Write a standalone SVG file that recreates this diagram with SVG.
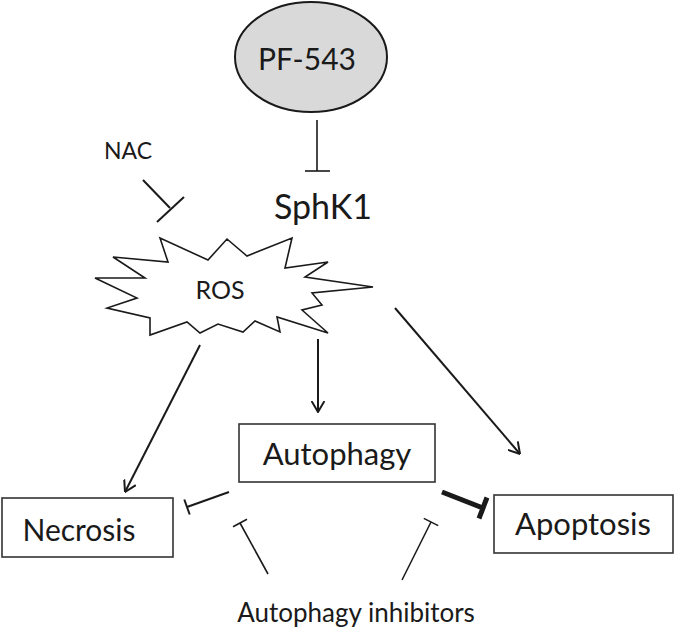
<svg xmlns="http://www.w3.org/2000/svg" width="675" height="635" viewBox="0 0 675 635">
<style>
  text { font-family: Lato, "Open Sans", "Liberation Sans", sans-serif; fill: #1a1a1a; text-anchor: middle; }
  .box { fill: #ffffff; stroke: #333333; stroke-width: 1.6; }
  .ln { fill: none; stroke: #1a1a1a; stroke-width: 2; stroke-linecap: butt; }
  .thin { fill: none; stroke: #1a1a1a; stroke-width: 1.6; }
  .thick { fill: none; stroke: #1a1a1a; stroke-width: 5; }
</style>
<defs>
  <marker id="arrow" viewBox="0 0 12 14" refX="11.5" refY="7" markerWidth="12" markerHeight="14" markerUnits="userSpaceOnUse" orient="auto">
    <path d="M0.5,0.5 L11.5,7 L0.5,13.5" fill="none" stroke="#1a1a1a" stroke-width="2"/>
  </marker>
</defs>
<rect width="675" height="635" fill="#ffffff"/>

<g id="pf543">
  <ellipse cx="311" cy="57" rx="76" ry="55" fill="#d9d9d9" stroke="#1a1a1a" stroke-width="2"/>
  <text x="307" y="70" font-size="30">PF-543</text>
</g>

<g id="sphk1">
  <text x="323" y="219" font-size="34">SphK1</text>
</g>

<g id="nac">
  <text x="128" y="159" font-size="23">NAC</text>
</g>

<g id="ros">
  <polygon points="160,238 168,262 113,257 145,278 95,278 137,298 107,308 150,318 150,335 187,322 200,333 218,324 243,332 255,321 280,332 277,317 328,333 302,310 322,305 312,293 373,287 305,277 328,262 285,268 292,238 247,256 227,239 208,260" fill="#ffffff" stroke="#1a1a1a" stroke-width="1.6" stroke-linejoin="miter"/>
  <text x="220" y="299" font-size="25">ROS</text>
</g>

<g id="autophagy">
  <rect class="box" x="239" y="424" width="196" height="58"/>
  <text x="337" y="465" font-size="31">Autophagy</text>
</g>

<g id="necrosis">
  <rect class="box" x="2" y="498" width="171" height="59"/>
  <text x="79" y="541" font-size="30">Necrosis</text>
</g>

<g id="apoptosis">
  <rect class="box" x="494" y="495" width="179" height="58"/>
  <text x="583" y="535" font-size="31">Apoptosis</text>
</g>

<g id="inhibitors">
  <text x="356" y="622" font-size="26">Autophagy inhibitors</text>
</g>

<g id="connectors">
  <!-- PF-543 inhibits SphK1 -->
  <line class="thin" x1="317" y1="120" x2="317" y2="171"/>
  <line class="thin" x1="305" y1="171" x2="330" y2="171"/>
  <!-- NAC inhibits ROS -->
  <line class="ln" x1="143" y1="180" x2="170" y2="208"/>
  <line class="ln" x1="157" y1="222" x2="184" y2="197"/>
  <!-- ROS activates -->
  <line class="ln" x1="200" y1="345" x2="125" y2="492" marker-end="url(#arrow)"/>
  <line class="ln" x1="318" y1="339" x2="318" y2="412" marker-end="url(#arrow)"/>
  <line class="ln" x1="395" y1="308" x2="520" y2="454" marker-end="url(#arrow)"/>
  <!-- Autophagy inhibits Necrosis -->
  <line class="ln" x1="229" y1="492" x2="187" y2="507"/>
  <line class="ln" x1="189.7" y1="514.5" x2="184.3" y2="499.5"/>
  <!-- Autophagy inhibits Apoptosis (thick) -->
  <line class="thick" x1="442" y1="492" x2="483" y2="508"/>
  <line class="thick" x1="479" y1="518.5" x2="487" y2="497.5"/>
  <!-- Autophagy inhibitors -->
  <line class="thin" x1="268" y1="574" x2="240" y2="523"/>
  <line class="thin" x1="247" y1="519.2" x2="233" y2="526.8"/>
  <line class="thin" x1="402" y1="580" x2="431" y2="522"/>
  <line class="thin" x1="438.2" y1="525.6" x2="423.8" y2="518.4"/>
</g>
</svg>
